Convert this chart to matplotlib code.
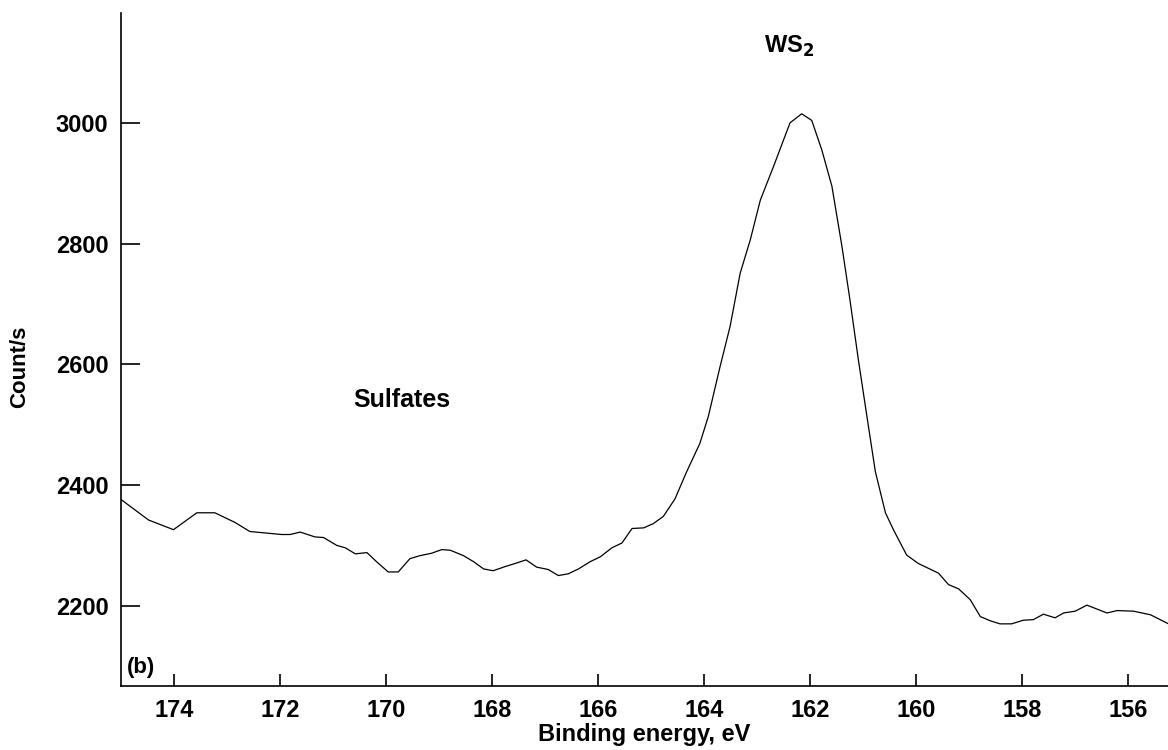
import numpy as np
import matplotlib.pyplot as plt

plt.rcParams['font.family'] = ['Liberation Sans', 'DejaVu Sans']
plt.rcParams['font.weight'] = 'bold'

# XPS S 2p spectrum
energy = [175.0, 174.48, 174.01, 173.57, 173.23, 172.85, 172.57, 171.97, 171.81,
          171.62, 171.34, 171.18, 170.93, 170.77, 170.58, 170.36, 170.18, 169.96,
          169.77, 169.55, 169.36, 169.14, 168.95, 168.79, 168.54, 168.35, 168.16,
          167.98, 167.75, 167.53, 167.36, 167.16, 166.94, 166.75, 166.56, 166.37,
          166.15, 165.96, 165.74, 165.55, 165.36, 165.14, 164.96, 164.77, 164.55,
          164.33, 164.08, 163.92, 163.70, 163.51, 163.32, 163.13, 162.94, 162.69,
          162.38, 162.16, 161.97, 161.78, 161.59, 161.40, 161.25, 161.09, 160.93,
          160.77, 160.58, 160.43, 160.18, 159.96, 159.58, 159.39, 159.20, 158.98,
          158.79, 158.60, 158.42, 158.20, 157.98, 157.79, 157.60, 157.38, 157.22,
          157.00, 156.78, 156.40, 156.21, 155.90, 155.58, 155.24]
counts = [2376, 2342, 2326, 2354, 2354, 2338, 2323, 2318, 2318,
          2322, 2314, 2313, 2300, 2296, 2286, 2288, 2273, 2256,
          2256, 2278, 2283, 2287, 2293, 2292, 2283, 2273, 2261,
          2258, 2265, 2271, 2276, 2264, 2260, 2250, 2253, 2261,
          2273, 2281, 2296, 2304, 2328, 2329, 2336, 2348, 2377,
          2422, 2469, 2514, 2596, 2663, 2751, 2806, 2872, 2928,
          3000, 3015, 3004, 2955, 2895, 2795, 2707, 2607, 2514,
          2422, 2354, 2326, 2284, 2270, 2254, 2235, 2228, 2210,
          2182, 2175, 2170, 2170, 2176, 2177, 2186, 2180, 2188,
          2191, 2201, 2188, 2192, 2191, 2185, 2170]

xticks = [174, 172, 170, 168, 166, 164, 162, 160, 158, 156]
yticks = [2200, 2400, 2600, 2800, 3000]

fig = plt.figure(figsize=(11.68, 7.5), dpi=100)
ax = fig.add_axes([0.1036, 0.0853, 0.8964, 0.8974])

ax.plot(energy, counts, color='black', lw=0.9)

ax.set_xlim(175, 155.25)
ax.set_ylim(2067, 3182)
ax.set_xticks(xticks)
ax.set_yticks(yticks)

for s in ['top', 'right']:
    ax.spines[s].set_visible(False)
for s in ['left', 'bottom']:
    ax.spines[s].set_linewidth(1.2)

ax.tick_params(axis='y', direction='in', length=14, width=1.2, pad=9, labelsize=17)
ax.tick_params(axis='x', direction='in', length=9, width=1.2, pad=9, labelsize=17)
for lab in ax.get_xticklabels() + ax.get_yticklabels():
    lab.set_fontweight('bold')

ax.set_xlabel('Binding energy, eV', fontsize=17, fontweight='bold', labelpad=1)
ax.set_ylabel('Count/s', fontsize=16, fontweight='bold')
ax.yaxis.set_label_coords(-0.087, 0.474)

ax.text(169.7, 2541, 'Sulfates', fontsize=18, fontweight='bold', ha='center', va='center')
ax.text(162.4, 3126, r'WS$_\mathbf{2}$', fontsize=17, fontweight='bold', ha='center', va='center')
ax.text(0.006, 0.028, '(b)', transform=ax.transAxes, fontsize=16, fontweight='bold',
        ha='left', va='center')

fig.savefig('out.png', dpi=100)
